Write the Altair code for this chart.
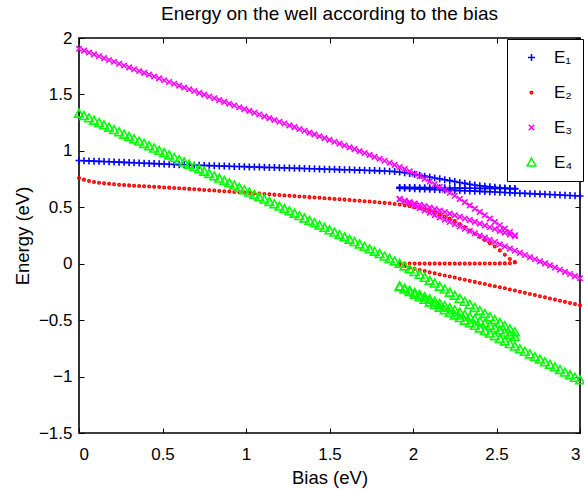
import altair as alt
import pandas as pd

# ---- forward sweep (0 -> 2.61 eV) ----
bias_a = [
    0.00, 0.03, 0.06, 0.09, 0.12, 0.15, 0.18, 0.21, 0.24, 0.27,
    0.30, 0.33, 0.36, 0.39, 0.42, 0.45, 0.48, 0.51, 0.54, 0.57,
    0.60, 0.63, 0.66, 0.69, 0.72, 0.75, 0.78, 0.81, 0.84, 0.87,
    0.90, 0.93, 0.96, 0.99, 1.02, 1.05, 1.08, 1.11, 1.14, 1.17,
    1.20, 1.23, 1.26, 1.29, 1.32, 1.35, 1.38, 1.41, 1.44, 1.47,
    1.50, 1.53, 1.56, 1.59, 1.62, 1.65, 1.68, 1.71, 1.74, 1.77,
    1.80, 1.83, 1.86, 1.89, 1.92, 1.95, 1.98, 2.01, 2.04, 2.07,
    2.10, 2.13, 2.16, 2.19, 2.22, 2.25, 2.28, 2.31, 2.34, 2.37,
    2.40, 2.43, 2.46, 2.49, 2.52, 2.55, 2.58, 2.61]
e1_a = [
    0.915, 0.913, 0.911, 0.909, 0.907, 0.906, 0.904, 0.902, 0.900, 0.898,
    0.896, 0.894, 0.892, 0.890, 0.889, 0.887, 0.885, 0.883, 0.881, 0.879,
    0.877, 0.876, 0.874, 0.873, 0.872, 0.870, 0.869, 0.868, 0.866, 0.865,
    0.864, 0.862, 0.861, 0.860, 0.858, 0.857, 0.856, 0.854, 0.853, 0.852,
    0.850, 0.849, 0.848, 0.846, 0.845, 0.844, 0.842, 0.841, 0.840, 0.838,
    0.837, 0.836, 0.834, 0.833, 0.832, 0.830, 0.829, 0.828, 0.826, 0.825,
    0.823, 0.821, 0.819, 0.816, 0.812, 0.806, 0.799, 0.792, 0.784, 0.776,
    0.768, 0.760, 0.752, 0.744, 0.736, 0.728, 0.720, 0.712, 0.704, 0.697,
    0.691, 0.686, 0.681, 0.677, 0.673, 0.670, 0.667, 0.664]
e2_a = [
    0.760, 0.745, 0.733, 0.724, 0.717, 0.712, 0.708, 0.704, 0.700, 0.697,
    0.694, 0.691, 0.689, 0.686, 0.684, 0.681, 0.679, 0.676, 0.674, 0.671,
    0.669, 0.666, 0.663, 0.660, 0.657, 0.654, 0.651, 0.648, 0.645, 0.642,
    0.639, 0.636, 0.633, 0.630, 0.627, 0.624, 0.621, 0.618, 0.615, 0.612,
    0.609, 0.605, 0.602, 0.599, 0.596, 0.593, 0.590, 0.587, 0.584, 0.580,
    0.577, 0.574, 0.571, 0.568, 0.564, 0.561, 0.558, 0.554, 0.551, 0.547,
    0.543, 0.539, 0.535, 0.530, 0.524, 0.517, 0.509, 0.500, 0.491, 0.480,
    0.467, 0.453, 0.437, 0.419, 0.400, 0.378, 0.352, 0.325, 0.295, 0.266,
    0.238, 0.210, 0.182, 0.152, 0.118, 0.080, 0.042, 0.010]
e3_a = [
    1.905, 1.888, 1.871, 1.855, 1.838, 1.822, 1.805, 1.789, 1.772, 1.756,
    1.740, 1.723, 1.707, 1.691, 1.675, 1.659, 1.642, 1.626, 1.610, 1.594,
    1.578, 1.562, 1.546, 1.530, 1.514, 1.498, 1.482, 1.466, 1.450, 1.434,
    1.418, 1.402, 1.386, 1.370, 1.354, 1.338, 1.322, 1.306, 1.290, 1.274,
    1.258, 1.242, 1.226, 1.210, 1.194, 1.178, 1.162, 1.146, 1.129, 1.113,
    1.097, 1.081, 1.064, 1.048, 1.031, 1.015, 0.998, 0.981, 0.964, 0.947,
    0.930, 0.912, 0.894, 0.876, 0.857, 0.838, 0.818, 0.797, 0.775, 0.752,
    0.728, 0.704, 0.680, 0.655, 0.629, 0.602, 0.574, 0.546, 0.517, 0.488,
    0.459, 0.430, 0.400, 0.371, 0.341, 0.311, 0.281, 0.251]
e4_a = [
    1.330, 1.309, 1.289, 1.268, 1.247, 1.227, 1.206, 1.185, 1.165, 1.144,
    1.124, 1.103, 1.083, 1.062, 1.042, 1.021, 1.001, 0.980, 0.960, 0.939,
    0.919, 0.898, 0.878, 0.857, 0.837, 0.816, 0.796, 0.775, 0.755, 0.734,
    0.714, 0.693, 0.672, 0.652, 0.631, 0.610, 0.590, 0.569, 0.548, 0.527,
    0.507, 0.486, 0.465, 0.444, 0.423, 0.402, 0.381, 0.360, 0.339, 0.318,
    0.297, 0.276, 0.255, 0.234, 0.213, 0.192, 0.171, 0.150, 0.128, 0.107,
    0.086, 0.064, 0.043, 0.021, -0.001, -0.024, -0.048, -0.073, -0.098, -0.124,
    -0.150, -0.176, -0.203, -0.229, -0.256, -0.283, -0.310, -0.337, -0.364, -0.391,
    -0.418, -0.445, -0.472, -0.499, -0.526, -0.553, -0.580, -0.607]

# ---- lower branch (1.92 -> 3.00 eV) ----
bias_b = [
    1.92, 1.95, 1.98, 2.01, 2.04, 2.07, 2.10, 2.13, 2.16, 2.19,
    2.22, 2.25, 2.28, 2.31, 2.34, 2.37, 2.40, 2.43, 2.46, 2.49,
    2.52, 2.55, 2.58, 2.61, 2.64, 2.67, 2.70, 2.73, 2.76, 2.79,
    2.82, 2.85, 2.88, 2.91, 2.94, 2.97, 3.00]
e1_b = [
    0.670, 0.668, 0.667, 0.665, 0.663, 0.661, 0.659, 0.658, 0.656, 0.654,
    0.652, 0.650, 0.648, 0.646, 0.645, 0.643, 0.641, 0.639, 0.637, 0.635,
    0.633, 0.631, 0.629, 0.627, 0.625, 0.623, 0.621, 0.619, 0.617, 0.615,
    0.613, 0.611, 0.609, 0.607, 0.604, 0.602, 0.600]
e2_b = [
    -0.010, -0.022, -0.034, -0.045, -0.055, -0.065, -0.075, -0.085, -0.095, -0.104,
    -0.114, -0.123, -0.133, -0.142, -0.152, -0.161, -0.171, -0.180, -0.190, -0.199,
    -0.209, -0.218, -0.228, -0.238, -0.248, -0.258, -0.268, -0.278, -0.288, -0.298,
    -0.308, -0.318, -0.328, -0.338, -0.348, -0.358, -0.368]
e3_b = [
    0.575, 0.554, 0.533, 0.513, 0.492, 0.472, 0.451, 0.431, 0.410, 0.390,
    0.370, 0.350, 0.330, 0.310, 0.290, 0.270, 0.250, 0.231, 0.211, 0.192,
    0.172, 0.153, 0.134, 0.115, 0.096, 0.077, 0.058, 0.040, 0.021, 0.003,
    -0.015, -0.034, -0.053, -0.072, -0.091, -0.110, -0.129]
e4_b = [
    -0.205, -0.228, -0.251, -0.274, -0.297, -0.320, -0.343, -0.366, -0.389, -0.412,
    -0.435, -0.458, -0.481, -0.504, -0.527, -0.550, -0.573, -0.596, -0.619, -0.642,
    -0.665, -0.688, -0.711, -0.734, -0.757, -0.780, -0.803, -0.826, -0.849, -0.872,
    -0.895, -0.918, -0.941, -0.964, -0.987, -1.010, -1.033]

# ---- intermediate branch (1.92 -> 2.61 eV) ----
bias_c = [
    1.92, 1.95, 1.98, 2.01, 2.04, 2.07, 2.10, 2.13, 2.16, 2.19,
    2.22, 2.25, 2.28, 2.31, 2.34, 2.37, 2.40, 2.43, 2.46, 2.49,
    2.52, 2.55, 2.58, 2.61]
e1_c = [
    0.676, 0.676, 0.675, 0.675, 0.674, 0.674, 0.673, 0.673, 0.672, 0.672,
    0.671, 0.671, 0.670, 0.670, 0.669, 0.669, 0.668, 0.668, 0.667, 0.667,
    0.666, 0.666, 0.665, 0.665]
e2_c = [
    0.001, 0.001, 0.001, 0.001, 0.001, 0.001, 0.001, 0.001, 0.001, 0.001,
    0.001, 0.001, 0.001, 0.001, 0.001, 0.001, 0.002, 0.002, 0.002, 0.002,
    0.003, 0.003, 0.004, 0.015]
e3_c = [
    0.570, 0.558, 0.546, 0.534, 0.522, 0.510, 0.497, 0.484, 0.471, 0.458,
    0.444, 0.430, 0.416, 0.401, 0.386, 0.371, 0.355, 0.339, 0.323, 0.307,
    0.291, 0.275, 0.260, 0.246]
e4_c = [
    -0.200, -0.219, -0.238, -0.257, -0.276, -0.296, -0.315, -0.335, -0.354, -0.374,
    -0.393, -0.413, -0.432, -0.452, -0.471, -0.491, -0.511, -0.530, -0.550, -0.570,
    -0.590, -0.610, -0.630, -0.650]

levels = ["E\u2081", "E\u2082", "E\u2083", "E\u2084"]
colors = ["#0000ff", "#ff0000", "#ff00ff", "#00ff00"]
shapes = [
    "M-1,0L1,0M0,-1L0,1",      # plus
    "circle",                  # dot
    "M-1,-1L1,1M-1,1L1,-1",    # x
    "M0,-1L1,0.8L-1,0.8Z",     # open triangle
]
sizes = [49, 6, 30, 76]
x_ticks = [0, 0.5, 1, 1.5, 2, 2.5, 3]
y_ticks = [-1.5, -1, -0.5, 0, 0.5, 1, 1.5, 2]

segments = [
    (bias_a, [e1_a, e2_a, e3_a, e4_a]),
    (bias_b, [e1_b, e2_b, e3_b, e4_b]),
    (bias_c, [e1_c, e2_c, e3_c, e4_c]),
]
rows = []
for k, lev in enumerate(levels):
    for bias, series in segments:
        for b, e in zip(bias, series[k]):
            rows.append({"bias": b, "energy": e, "level": lev, "order": k})
df = pd.DataFrame(rows)

FONT = "Liberation Sans"
leg = alt.Legend(
    title=None, orient="none", legendX=428, legendY=1,
    fillColor="white", strokeColor="black", padding=10,
    labelFont=FONT, labelFontSize=17, labelColor="black",
    rowPadding=17, symbolOffset=6, labelOffset=14,
    symbolStrokeWidth=1.5,
)

chart = alt.Chart(df).mark_point(filled=False, strokeWidth=1.6, opacity=1).encode(
    x=alt.X("bias:Q",
            scale=alt.Scale(domain=[0, 3], nice=False, zero=False),
            axis=alt.Axis(values=x_ticks, format="~g", title="Bias (eV)",
                          labelPadding=13, titleY=44, titleBaseline="middle",
                          gridDash=[5, 385, 5, 600])),
    y=alt.Y("energy:Q",
            scale=alt.Scale(domain=[-1.5, 2], nice=False, zero=False),
            axis=alt.Axis(values=y_ticks, format="~g", title="Energy (eV)",
                          labelPadding=7, titleX=-57, titleBaseline="middle",
                          gridDash=[5, 491, 5, 600])),
    color=alt.Color("level:N", scale=alt.Scale(domain=levels, range=colors), legend=leg),
    shape=alt.Shape("level:N", scale=alt.Scale(domain=levels, range=shapes), legend=leg),
    size=alt.Size("level:N", scale=alt.Scale(type="ordinal", domain=levels, range=sizes), legend=leg),
    order=alt.Order("order:Q"),
).properties(
    width=501, height=395,
    title=alt.TitleParams("Energy on the well according to the bias",
                          font=FONT, fontSize=19, fontWeight="normal", color="black",
                          anchor="middle", baseline="alphabetic", offset=14, dy=24),
    autosize=alt.AutoSizeParams(type="none"),
    padding={"left": 79, "top": 38, "right": 4, "bottom": 57},
).configure_view(
    stroke="black", strokeWidth=1.6
).configure_axis(
    domain=False, ticks=False, grid=True, gridColor="black", gridWidth=1, gridOpacity=1,
    labelFont=FONT, labelFontSize=17, labelColor="black",
    titleFont=FONT, titleFontSize=18.5, titleFontWeight="normal", titleColor="black",
)

chart.save("out.html", embed_options={"renderer": "svg", "actions": False})
